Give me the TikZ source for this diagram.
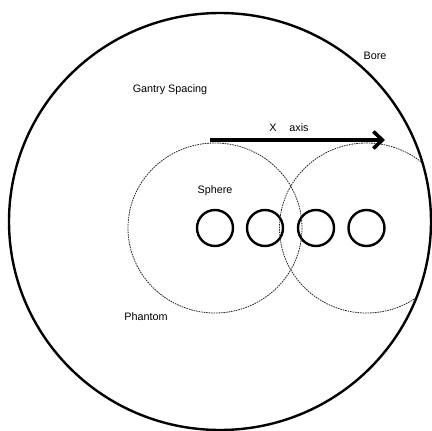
\documentclass[tikz,border=0pt]{standalone}
\usepackage{fontspec}
\setmainfont{Liberation Sans}
\usetikzlibrary{arrows.meta}
\tikzset{
  borering/.style={line width=2.4pt},
  spherering/.style={circle, draw, line width=2.4pt, minimum size=36pt, inner sep=0pt},
  phantomring/.style={line width=0.8pt, draw=black!85, dash pattern=on 1.6pt off 0.9pt},
  lbl/.style={font=\fontsize{10.8}{12}\selectfont, inner sep=0pt},
  axisarrow/.style={line width=3.6pt, -{Straight Barb[length=9pt, width=17pt]}}
}
\begin{document}
\begin{tikzpicture}[x=1pt, y=-1pt]
  \useasboundingbox (0,0) rectangle (432,431);
  % scanner bore
  \coordinate (c) at (220,221.5);
  \draw[borering] (c) ellipse [x radius=211, y radius=208.5];
  % spheres placed along the x axis
  \node[spherering] (s1) at (215,228) {};
  \node[spherering] (s2) at (265,228) {};
  \node[spherering] (s3) at (316,228) {};
  \node[spherering] (s4) at (366.5,228) {};
  % phantom at its two end positions, limited to the bore
  \begin{scope}
    \clip (c) ellipse [x radius=210, y radius=207.5];
    \draw[phantomring] (s1.center) ellipse [x radius=87, y radius=85];
    \draw[phantomring] (s4.center) ellipse [x radius=87, y radius=85];
  \end{scope}
  % x axis
  \coordinate (a0) at (210,140);
  \coordinate (a1) at (385,140);
  \draw[axisarrow] (a0) -- (a1);
  % labels
  \node[lbl] (bore) at (375,56) {Bore};
  \node[lbl] (gantry) at (170,90) {Gantry Spacing};
  \node[lbl] (xl) at (273,128) {X};
  \node[lbl] (axisl) at (299,128) {axis};
  \node[lbl] (sphere) at (215,191) {Sphere};
  \node[lbl] (phantom) at (146,317) {Phantom};
\end{tikzpicture}
\end{document}
